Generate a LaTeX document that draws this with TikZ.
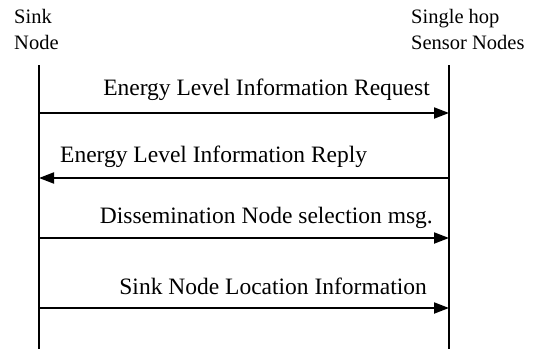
\documentclass[tikz,border=0pt]{standalone}
\usepackage{fontspec}
\setmainfont{Liberation Serif}
\usetikzlibrary{arrows.meta,positioning}

\begin{document}
\begin{tikzpicture}[
  x=1pt, y=1pt,
  node distance=10pt and 19pt,
  head/.style={align=left, anchor=base west, inner sep=0pt,
    font=\fontsize{20.5}{26}\selectfont},
  lifeline/.style={line width=1.3pt},
  msg/.style={-{Triangle[length=15pt, width=11pt]}, line width=2pt},
  msglabel/.style={inner sep=0pt, text depth=5pt,
    font=\fontsize{23.5}{28}\selectfont}
]
\useasboundingbox (0,0) rectangle (535,349);

% the two parties (base sits on the second line)
\node[head] (sinkhead) at (14,299) {Sink\\Node};
\node[head] (sensorhead) at (411,299) {Single hop\\Sensor Nodes};

% lifelines
\coordinate (sinktop) at (39,284);
\coordinate (sinkbot) at (39,0);
\coordinate (sensortop) at (449,284);
\coordinate (sensorbot) at (449,0);
\draw[lifeline] (sinktop) -- (sinkbot);
\draw[lifeline] (sensortop) -- (sensorbot);

% message end points, top to bottom
\coordinate (req-a) at (39,236);
\coordinate (req-b) at (449,236);
\coordinate (rep-a) at (449,171);
\coordinate (rep-b) at (39,171);
\coordinate (sel-a) at (39,111);
\coordinate (sel-b) at (449,111);
\coordinate (loc-a) at (39,41);
\coordinate (loc-b) at (449,41);

\draw[msg] (req-a) -- (req-b);
\draw[msg] (rep-a) -- (rep-b);
\draw[msg] (sel-a) -- (sel-b);
\draw[msg] (loc-a) -- (loc-b);

\node[msglabel, above left=12pt and 19pt of req-b] (reqlabel)
  {Energy Level Information Request};
\node[msglabel, above right=10pt and 21pt of rep-b] (replabel)
  {Energy Level Information Reply};
\node[msglabel, above left=9pt and 16pt of sel-b] (sellabel)
  {Dissemination Node selection msg.};
\node[msglabel, above left=8pt and 22pt of loc-b] (loclabel)
  {Sink Node Location Information};
\end{tikzpicture}
\end{document}
